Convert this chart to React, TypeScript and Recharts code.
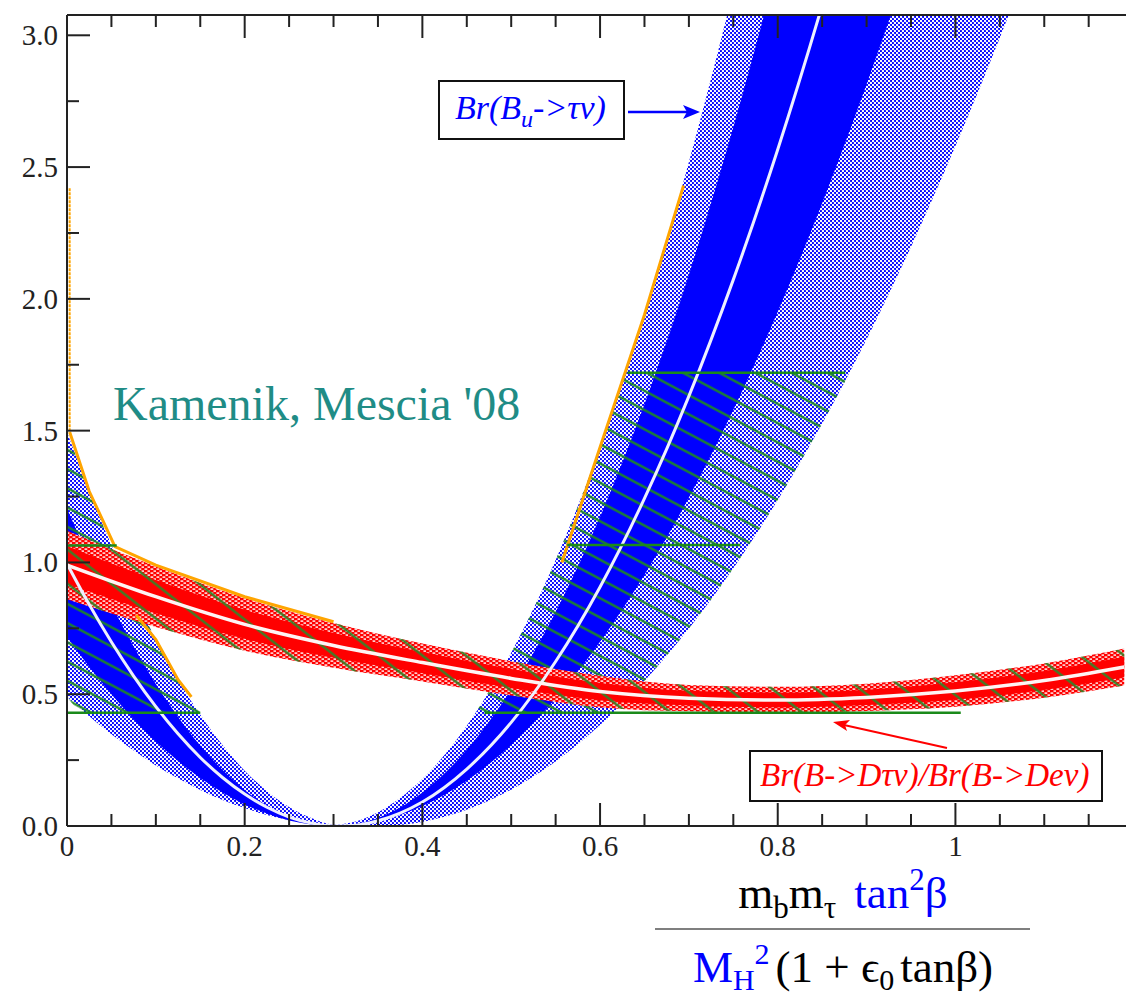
import React from 'react';
import { ComposedChart, Area, Line, XAxis, YAxis } from 'recharts';

const X_MAX = 1.192;
const Y_MAX = 3.077;
const AXIS = '#222';
const SERIF = 'Liberation Serif, Times New Roman, serif';

const xTicks = [0, 0.05, 0.1, 0.15, 0.2, 0.25, 0.3, 0.35, 0.4, 0.45, 0.5, 0.55, 0.6, 0.65, 0.7, 0.75, 0.8, 0.85, 0.9, 0.95, 1, 1.05, 1.1, 1.15];
const yTicks = [0, 0.25, 0.5, 0.75, 1, 1.25, 1.5, 1.75, 2, 2.25, 2.5, 2.75, 3];

// Br(Bu -> tau nu) band
const blueX = [0, 0.025, 0.05, 0.075, 0.1, 0.125, 0.15, 0.175, 0.2, 0.225, 0.25, 0.275, 0.3, 0.325, 0.35, 0.375, 0.4, 0.45, 0.5, 0.55, 0.6, 0.65, 0.7, 0.75, 0.8, 0.85, 0.9, 0.95, 1.0, 1.05, 1.1, 1.15, 1.19];
const blueOuterHi = [1.495, 1.271, 1.065, 0.877, 0.707, 0.555, 0.422, 0.307, 0.21, 0.132, 0.072, 0.03, 0.006, 0.017, 0.052, 0.106, 0.178, 0.38, 0.657, 1.009, 1.437, 1.94, 2.519, 3.172, 3.9, 4.71, 5.59, 6.55, 7.57, 8.67, 9.85, 11.1, 12.2];
const blueOuterLo = [0.49, 0.416, 0.348, 0.286, 0.23, 0.181, 0.137, 0.099, 0.068, 0.042, 0.0225, 0.009, 0.0016, 0, 0, 0.004, 0.0155, 0.0616, 0.138, 0.245, 0.383, 0.55, 0.749, 0.978, 1.237, 1.527, 1.847, 2.198, 2.58, 2.991, 3.434, 3.906, 4.306];
const blueInnerHi = [1.205, 1.014, 0.839, 0.681, 0.539, 0.414, 0.305, 0.213, 0.137, 0.078, 0.036, 0.0096, 0, 0.007, 0.03, 0.07, 0.127, 0.289, 0.518, 0.812, 1.173, 1.6, 2.092, 2.651, 3.276, 3.967, 4.724, 5.547, 6.436];
const blueInnerLo = [0.718, 0.604, 0.5, 0.405, 0.321, 0.247, 0.182, 0.127, 0.082, 0.047, 0.021, 0.0057, 0, 0.004, 0.018, 0.042, 0.076, 0.172, 0.308, 0.484, 0.699, 0.953, 1.246, 1.579, 1.951, 2.363, 2.814, 3.304, 3.833];
const blueMid = [0.995, 0.84, 0.698, 0.569, 0.453, 0.35, 0.26, 0.184, 0.121, 0.071, 0.034, 0.011, 0.0005, 0.003, 0.02, 0.049, 0.091, 0.216, 0.393, 0.624, 0.907, 1.243, 1.631, 2.073, 2.567, 3.114, 3.714];

// Br(B -> D tau nu) / Br(B -> D e nu) band
const redX = [0, 0.1, 0.2, 0.3, 0.4, 0.5, 0.6, 0.7, 0.8, 0.9, 1.0, 1.1, 1.19];
const redMid = [0.99, 0.87, 0.765, 0.685, 0.62, 0.56, 0.51, 0.485, 0.478, 0.488, 0.512, 0.552, 0.603];
const redOuterHi = [1.12, 0.985, 0.865, 0.77, 0.692, 0.625, 0.57, 0.535, 0.528, 0.54, 0.572, 0.617, 0.673];
const redOuterLo = [0.86, 0.755, 0.665, 0.6, 0.548, 0.495, 0.45, 0.435, 0.43, 0.436, 0.452, 0.487, 0.533];
const redInnerHi = [1.062, 0.933, 0.82, 0.732, 0.66, 0.596, 0.543, 0.513, 0.506, 0.517, 0.545, 0.588, 0.642];
const redInnerLo = [0.918, 0.807, 0.71, 0.638, 0.58, 0.524, 0.477, 0.457, 0.45, 0.459, 0.479, 0.516, 0.564];

// green hatched overlap regions
const hatchLeftX = [0, 0.02, 0.05, 0.075, 0.1, 0.125, 0.15];
const hatchLeftLo = [0.49, 0.43, 0.43, 0.43, 0.43, 0.43, 0.43];
const hatchLeftHi = [1.495, 1.314, 1.065, 0.877, 0.707, 0.555, 0.43];
const hatchRightX = [0.46, 0.5, 0.55, 0.6, 0.615, 0.629, 0.65, 0.7, 0.75, 0.8, 0.85, 0.881];
const hatchRightLo = [0.43, 0.43, 0.43, 0.43, 0.43, 0.476, 0.55, 0.749, 0.978, 1.237, 1.527, 1.72];
const hatchRightHi = [0.43, 0.657, 1.009, 1.437, 1.58, 1.72, 1.72, 1.72, 1.72, 1.72, 1.72, 1.72];

// green horizontal bounds: y, from x, to x
const cutSegments = [
  [0.43, 0, 0.15],
  [1.064, 0, 0.056],
  [0.43, 0.47, 1.006],
  [1.066, 0.563, 0.758],
  [1.72, 0.631, 0.876],
];

// orange outline pieces
const edgeAxisX = [0.003, 0.003];
const edgeAxisY = [2.42, 1.495];
const edgeLeftX = [0.003, 0.025, 0.054, 0.1, 0.2, 0.3];
const edgeLeftY = [1.495, 1.27, 1.06, 0.99, 0.87, 0.775];
const edgeMidX = [0.078, 0.1, 0.125, 0.14];
const edgeMidY = [0.8, 0.707, 0.555, 0.49];
const edgeRightX = [0.557, 0.6, 0.65, 0.694];
const edgeRightY = [1.0, 1.437, 1.94, 2.43];

const band = (xs: number[], lo: number[], hi: number[], key: string) =>
  lo.map((l, i) => ({ x: xs[i], [key]: [l, hi[i]] }));
const curve = (xs: number[], ys: number[], key: string) =>
  ys.map((y, i) => ({ x: xs[i], [key]: y }));

const isMajor = (v: number, step: number) => Math.abs(v / step - Math.round(v / step)) < 1e-6;

function bottomTick(p: any) {
  const v = p.payload.value;
  const major = isMajor(v, 0.2);
  return (
    <g>
      <line x1={p.x} x2={p.x} y1={p.y} y2={p.y - (major ? 23 : 12)} stroke={AXIS} strokeWidth={2} />
      {major && (
        <text x={p.x} y={p.y + 30} textAnchor="middle" fontFamily={SERIF} fontSize={29} fill={AXIS}>
          {String(Math.round(v * 10) / 10)}
        </text>
      )}
    </g>
  );
}

function topTick(p: any) {
  const major = isMajor(p.payload.value, 0.2);
  return <line x1={p.x} x2={p.x} y1={p.y} y2={p.y + (major ? 23 : 12)} stroke={AXIS} strokeWidth={2} />;
}

function leftTick(p: any) {
  const v = p.payload.value;
  const major = isMajor(v, 0.5);
  return (
    <g>
      <line x1={p.x} x2={p.x + (major ? 23 : 12)} y1={p.y} y2={p.y} stroke={AXIS} strokeWidth={2} />
      {major && (
        <text x={p.x - 9} y={p.y} dy={10} textAnchor="end" fontFamily={SERIF} fontSize={29} fill={AXIS}>
          {v.toFixed(1)}
        </text>
      )}
    </g>
  );
}

export default function App() {
  const common = { isAnimationActive: false, dot: false, activeDot: false } as any;

  return (
    <div style={{ position: 'absolute', left: 0, top: 0, width: 1126, height: 999, background: '#fff', overflow: 'hidden' }}>
      <svg width={0} height={0} style={{ position: 'absolute' }}>
        <defs>
          <pattern id="blueDots" width={4} height={4} patternUnits="userSpaceOnUse">
            <rect width={4} height={4} fill="#0000ff" />
            <circle cx={1} cy={1} r={1.2} fill="#fff" />
            <circle cx={3} cy={3} r={1.2} fill="#fff" />
          </pattern>
          <pattern id="redDots" width={6} height={4} patternUnits="userSpaceOnUse">
            <rect width={6} height={4} fill="#ff0000" />
            <rect x={0.5} y={0.4} width={2.8} height={1.4} fill="#fff" />
            <rect x={3.5} y={2.4} width={2.8} height={1.4} fill="#fff" />
          </pattern>
          <pattern id="hatchBlue" width={17} height={17} patternUnits="userSpaceOnUse" patternTransform="rotate(28)">
            <line x1={0} y1={8.5} x2={17} y2={8.5} stroke="#1e8c1e" strokeWidth={2.2} />
          </pattern>
          <pattern id="hatchRed" width={27} height={27} patternUnits="userSpaceOnUse" patternTransform="rotate(38)">
            <line x1={0} y1={13.5} x2={27} y2={13.5} stroke="#2a8a2a" strokeWidth={2.2} />
          </pattern>
        </defs>
      </svg>

      <ComposedChart width={1126} height={999} margin={{ top: 0, right: 0, bottom: 0, left: 0 }}>
        <XAxis
          type="number"
          dataKey="x"
          domain={[0, X_MAX]}
          allowDataOverflow
          ticks={xTicks}
          interval={0}
          height={173}
          tickSize={0}
          tickMargin={0}
          tickLine={false}
          tick={bottomTick}
          axisLine={{ stroke: AXIS, strokeWidth: 2 }}
        />
        <XAxis
          xAxisId="top"
          orientation="top"
          type="number"
          dataKey="x"
          domain={[0, X_MAX]}
          allowDataOverflow
          ticks={xTicks}
          interval={0}
          height={15}
          tickSize={0}
          tickMargin={0}
          tickLine={false}
          tick={topTick}
          axisLine={{ stroke: AXIS, strokeWidth: 2 }}
        />
        <YAxis
          type="number"
          domain={[0, Y_MAX]}
          allowDataOverflow
          ticks={yTicks}
          interval={0}
          width={67}
          tickSize={0}
          tickMargin={0}
          tickLine={false}
          tick={leftTick}
          axisLine={{ stroke: AXIS, strokeWidth: 2 }}
        />

        <Line data={curve(edgeAxisX, edgeAxisY, 'oz')} dataKey="oz" type="linear" stroke="#ffa500" strokeWidth={2} strokeDasharray="3 1" {...common} />
        <Line data={curve(edgeLeftX, edgeLeftY, 'oa')} dataKey="oa" type="linear" stroke="#ffa500" strokeWidth={3} {...common} />
        <Line data={curve(edgeMidX, edgeMidY, 'ob')} dataKey="ob" type="linear" stroke="#ffa500" strokeWidth={3} {...common} />
        <Line data={curve(edgeRightX, edgeRightY, 'oc')} dataKey="oc" type="linear" stroke="#ffa500" strokeWidth={3} {...common} />

        <Area data={band(blueX, blueOuterLo, blueOuterHi, 'bo')} dataKey="bo" type="monotone" stroke="none" fill="url(#blueDots)" fillOpacity={1} {...common} />
        <Area data={band(blueX, blueInnerLo, blueInnerHi, 'bi')} dataKey="bi" type="monotone" stroke="none" fill="#0000ff" fillOpacity={1} {...common} />
        <Line data={curve(blueX, blueMid, 'bm')} dataKey="bm" type="monotone" stroke="#eef0ff" strokeWidth={3} {...common} />

        <Area data={band(hatchLeftX, hatchLeftLo, hatchLeftHi, 'hl')} dataKey="hl" type="monotone" stroke="none" fill="url(#hatchBlue)" fillOpacity={1} {...common} />
        <Area data={band(hatchRightX, hatchRightLo, hatchRightHi, 'hr')} dataKey="hr" type="monotone" stroke="none" fill="url(#hatchBlue)" fillOpacity={1} {...common} />

        <Area data={band(redX, redOuterLo, redOuterHi, 'ro')} dataKey="ro" type="monotone" stroke="none" fill="url(#redDots)" fillOpacity={1} {...common} />
        <Area data={band(redX, redInnerLo, redInnerHi, 'ri')} dataKey="ri" type="monotone" stroke="none" fill="#ff0000" fillOpacity={1} {...common} />
        <Line data={curve(redX, redMid, 'rm')} dataKey="rm" type="monotone" stroke="#fff4f4" strokeWidth={3.5} {...common} />
        <Area data={band(redX, redOuterLo, redOuterHi, 'rh')} dataKey="rh" type="monotone" stroke="none" fill="url(#hatchRed)" fillOpacity={1} {...common} />

        {cutSegments.map(([y, x0, x1], i) => (
          <Line
            key={'cut' + i}
            data={[{ x: x0, ['c' + i]: y }, { x: x1, ['c' + i]: y }]}
            dataKey={'c' + i}
            type="linear"
            stroke="#1a8a1a"
            strokeWidth={2.5}
            {...common}
          />
        ))}
      </ComposedChart>

      <svg width={1126} height={999} style={{ position: 'absolute', left: 0, top: 0, pointerEvents: 'none' }}>
        <text x={113} y={420} fontFamily={SERIF} fontSize={48} fill="#1f8c86">
          Kamenik, Mescia '08
        </text>

        <rect x={439} y={81} width={185} height={58} fill="#fff" stroke="#111" strokeWidth={2} />
        <text x={455} y={119} fontFamily={SERIF} fontSize={34} fontStyle="italic" fill="#0000ff">
          Br(B<tspan fontSize={24} dy={8}>u</tspan>
          <tspan dy={-8}>-&gt;τν)</tspan>
        </text>
        <line x1={628} y1={112} x2={688} y2={112} stroke="#0000ff" strokeWidth={2.5} />
        <polygon points="700,112 683,105 687,112 683,119" fill="#0000ff" />

        <rect x={750} y={751} width={352} height={50} fill="#fff" stroke="#111" strokeWidth={2} />
        <text x={760} y={786} fontFamily={SERIF} fontSize={33} fontStyle="italic" fill="#ff0000">
          Br(B-&gt;Dτν)/Br(B-&gt;Deν)
        </text>
        <line x1={947} y1={748} x2={844} y2={725} stroke="#ff0000" strokeWidth={2} />
        <polygon points="833,722 847,731 845,725 850,720" fill="#ff0000" />

        <text x={843} y={908} textAnchor="middle" fontFamily={SERIF} fontSize={45} fill="#000">
          m<tspan fontSize={31} dy={10}>b</tspan>
          <tspan dy={-10}>m</tspan>
          <tspan fontSize={31} dy={10}>τ</tspan>
          <tspan dy={-10} dx={18} fill="#0000ff">tan</tspan>
          <tspan fontSize={31} dy={-18} fill="#0000ff">2</tspan>
          <tspan dy={18} fill="#0000ff">β</tspan>
        </text>
        <line x1={655} y1={929} x2={1030} y2={929} stroke="#555" strokeWidth={1.5} />
        <text x={843} y={982} textAnchor="middle" fontFamily={SERIF} fontSize={45} fill="#000">
          <tspan fill="#0000ff">M</tspan>
          <tspan fontSize={30} dy={8} fill="#0000ff">H</tspan>
          <tspan fontSize={30} dy={-26} fill="#0000ff">2</tspan>
          <tspan dy={18} dx={6}>(1 + ϵ</tspan>
          <tspan fontSize={30} dy={8}>0</tspan>
          <tspan dy={-8} dx={6}>tanβ)</tspan>
        </text>
      </svg>
    </div>
  );
}
